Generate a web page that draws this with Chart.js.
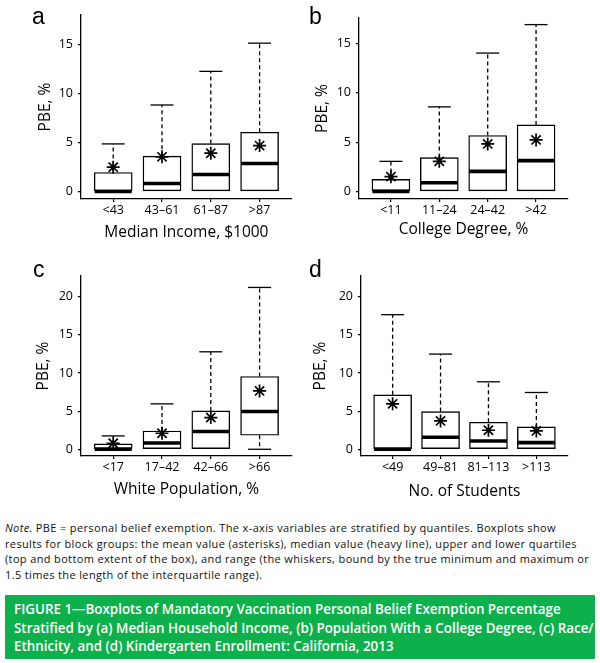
<!DOCTYPE html>
<html>
<head>
<meta charset="utf-8">
<script src="https://cdn.jsdelivr.net/npm/chart.js@4.4.1/dist/chart.umd.min.js"></script>
<style>
  body { margin: 0; background: #fff; width: 600px; height: 663px; position: relative; overflow: hidden; font-family: 'Open Sans', sans-serif; }
  canvas { position: absolute; }
  .lt { position: absolute; font-family: 'Liberation Sans', Arial, sans-serif; font-size: 23px; line-height: 23px; color: #000; }
  #note { position: absolute; left: 5px; top: 520px; font-size: 11px; letter-spacing: 0.36px; line-height: 15.6px; white-space: nowrap; color: #111; }
  #cap { position: absolute; left: 5px; top: 595px; width: 590px; height: 64px; background: #0db14b; color: #fff; }
  #cap div { position: absolute; left: 9px; top: 5px; font-size: 13.4px; line-height: 18.6px; font-weight: 600; white-space: nowrap; }
</style>
</head>
<body>
<canvas id="pa" width="300" height="250" style="left:0;top:0"></canvas>
<canvas id="pb" width="300" height="250" style="left:300px;top:0"></canvas>
<canvas id="pc" width="300" height="262" style="left:0;top:250px"></canvas>
<canvas id="pd" width="300" height="262" style="left:300px;top:250px"></canvas>
<div class="lt" style="left:32px;top:5px">a</div>
<div class="lt" style="left:309px;top:5px">b</div>
<div class="lt" style="left:33px;top:258px">c</div>
<div class="lt" style="left:309px;top:258px">d</div>
<div id="note"><i>Note.</i> PBE = personal belief exemption. The x-axis variables are stratified by quantiles. Boxplots show<br>results for block groups: the mean value (asterisks), median value (heavy line), upper and lower quartiles<br>(top and bottom extent of the box), and range (the whiskers, bound by the true minimum and maximum or<br>1.5 times the length of the interquartile range).</div>
<div id="cap"><div>FIGURE 1—Boxplots of Mandatory Vaccination Personal Belief Exemption Percentage<br>Stratified by (a) Median Household Income, (b) Population With a College Degree, (c) Race/<br>Ethnicity, and (d) Kindergarten Enrollment: California, 2013</div></div>

<script>
// a: median income
var incomeCats = ['<43', '43–61', '61–87', '>87'];
var incomeMin  = [0, 0, 0, 0];
var incomeQ1   = [0, 0, 0, 0];
var incomeMed  = [0, 0.81, 1.73, 2.85];
var incomeQ3   = [1.93, 3.6, 4.88, 6.04];
var incomeMax  = [4.85, 8.82, 12.25, 15.13];
var incomeMean = [2.48, 3.53, 3.9, 4.68];

// b: college degree
var collegeCats = ['<11', '11–24', '24–42', '>42'];
var collegeMin  = [0, 0, 0, 0];
var collegeQ1   = [0, 0, 0, 0];
var collegeMed  = [0, 0.88, 2.03, 3.12];
var collegeQ3   = [1.22, 3.43, 5.67, 6.75];
var collegeMax  = [3.05, 8.58, 14.04, 16.93];
var collegeMean = [1.5, 3.05, 4.82, 5.23];

// c: white population
var whiteCats = ['<17', '17–42', '42–66', '>66'];
var whiteMin  = [0, 0, 0, 0];
var whiteQ1   = [0, 0, 0, 1.84];
var whiteMed  = [0, 0.83, 2.32, 4.94];
var whiteQ3   = [0.7, 2.4, 5.03, 9.54];
var whiteMax  = [1.75, 5.95, 12.77, 21.2];
var whiteMean = [0.79, 2.1, 4.16, 7.65];

// d: number of students
var studentCats = ['<49', '49–81', '81–113', '>113'];
var studentMin  = [0, 0, 0, 0];
var studentQ1   = [0, 0, 0, 0];
var studentMed  = [0, 1.57, 1.09, 0.87];
var studentQ3   = [7.13, 4.94, 3.54, 2.93];
var studentMax  = [17.63, 12.47, 8.84, 7.44];
var studentMean = [5.95, 3.72, 2.49, 2.41];

var ticksSmall = [0, 5, 10, 15];
var ticksLarge = [0, 5, 10, 15, 20];

var BOX_W = 38;
var CAP_W = 23;

// whiskers behind the boxes, medians on top of them
var boxParts = {
  id: 'boxParts',
  beforeDatasetsDraw: function(chart) {
    var st = chart.options.plugins.boxParts;
    var xs = chart.scales.x, ys = chart.scales.y, ctx = chart.ctx;
    ctx.save();
    ctx.strokeStyle = '#000';
    ctx.lineWidth = 1.3;
    for (var i = 0; i < st.q3.length; i++) {
      var x = xs.getPixelForValue(i + 1);
      var ends = [[st.q3[i], st.max[i]], [st.q1[i], st.min[i]]];
      ends.forEach(function(e) {
        if (Math.abs(e[0] - e[1]) < 0.01) return;
        ctx.setLineDash([4, 3]);
        ctx.beginPath();
        ctx.moveTo(x, ys.getPixelForValue(e[0]));
        ctx.lineTo(x, ys.getPixelForValue(e[1]));
        ctx.stroke();
        ctx.setLineDash([]);
        ctx.beginPath();
        ctx.moveTo(x - CAP_W / 2, ys.getPixelForValue(e[1]));
        ctx.lineTo(x + CAP_W / 2, ys.getPixelForValue(e[1]));
        ctx.stroke();
      });
    }
    ctx.restore();
  },
  afterDatasetDraw: function(chart, args) {
    if (args.index !== 0) return;
    var st = chart.options.plugins.boxParts;
    var xs = chart.scales.x, ys = chart.scales.y, ctx = chart.ctx;
    ctx.save();
    ctx.strokeStyle = '#000';
    ctx.lineWidth = 3.6;
    for (var i = 0; i < st.med.length; i++) {
      var x = xs.getPixelForValue(i + 1);
      var y = ys.getPixelForValue(st.med[i]);
      ctx.beginPath();
      ctx.moveTo(x - BOX_W / 2 + 0.5, y);
      ctx.lineTo(x + BOX_W / 2 - 0.5, y);
      ctx.stroke();
    }
    ctx.restore();
  }
};

function makePanel(id, p) {
  var xs = p.cats.map(function(c, i) { return i + 1; });
  var axisFont = { family: "'Open Sans', sans-serif", size: 12.5 };
  var titleFont = { family: "'Open Sans', sans-serif", size: 15.5 };
  new Chart(document.getElementById(id), {
    type: 'bar',
    data: {
      datasets: [
        {
          type: 'bar',
          data: xs.map(function(x, i) { return { x: x, y: [p.q1[i], p.q3[i]] }; }),
          backgroundColor: '#fff',
          borderColor: '#000',
          borderWidth: 1.4,
          borderSkipped: false,
          barThickness: BOX_W,
          order: 2
        },
        {
          type: 'scatter',
          data: xs.map(function(x, i) { return { x: x, y: p.mean[i] }; }),
          pointStyle: 'star',
          pointRadius: 6.5,
          borderColor: '#000',
          borderWidth: 1.7,
          order: 1
        }
      ]
    },
    options: {
      responsive: false,
      animation: false,
      events: [],
      layout: { padding: p.pad },
      plugins: {
        legend: { display: false },
        tooltip: { enabled: false },
        boxParts: { min: p.min, q1: p.q1, med: p.med, q3: p.q3, max: p.max }
      },
      scales: {
        x: {
          type: 'linear',
          offset: false,
          min: 0.34,
          max: 4.66,
          afterBuildTicks: function(s) { s.ticks = xs.map(function(v) { return { value: v }; }); },
          afterFit: function(s) { s.height = p.xH; },
          ticks: {
            autoSkip: false, maxRotation: 0, color: '#000', font: axisFont, padding: 1,
            callback: function(v) { return p.cats[v - 1]; }
          },
          grid: { drawOnChartArea: false, offset: false, tickLength: 3, color: '#000', lineWidth: 1.2 },
          border: { display: true, color: '#000', width: 1.3 },
          title: { display: true, text: p.xTitle, color: '#000', font: titleFont, padding: { top: 0, bottom: p.xTitlePad } }
        },
        y: {
          min: p.yMin,
          max: p.yMax,
          afterBuildTicks: function(s) { s.ticks = p.yTicks.map(function(v) { return { value: v }; }); },
          afterFit: function(s) { s.width = p.yW; },
          ticks: { color: '#000', font: axisFont, padding: 5 },
          grid: { drawOnChartArea: false, tickLength: 3, color: '#000', lineWidth: 1.2 },
          border: { display: true, color: '#000', width: 1.3 },
          title: { display: true, text: 'PBE, %', color: '#000', font: titleFont, padding: { top: p.yTitlePad, bottom: 0 } }
        }
      }
    },
    plugins: [boxParts]
  });
}

makePanel('pa', {
  cats: incomeCats, min: incomeMin, q1: incomeQ1, med: incomeMed, q3: incomeQ3, max: incomeMax, mean: incomeMean,
  yMin: -0.77, yMax: 18, yTicks: ticksSmall, xTitle: 'Median Income, $1000',
  pad: { left: 0, top: 15, right: 7, bottom: 0 }, yW: 81, xH: 51, xTitlePad: 8, yTitlePad: 36
});
makePanel('pb', {
  cats: collegeCats, min: collegeMin, q1: collegeQ1, med: collegeMed, q3: collegeQ3, max: collegeMax, mean: collegeMean,
  yMin: -0.77, yMax: 17.6, yTicks: ticksSmall, xTitle: 'College Degree, %',
  pad: { left: 0, top: 18, right: 32, bottom: 0 }, yW: 59, xH: 51, xTitlePad: 11, yTitlePad: 13
});
makePanel('pc', {
  cats: whiteCats, min: whiteMin, q1: whiteQ1, med: whiteMed, q3: whiteQ3, max: whiteMax, mean: whiteMean,
  yMin: -0.88, yMax: 22.7, yTicks: ticksLarge, xTitle: 'White Population, %',
  pad: { left: 0, top: 26, right: 7, bottom: 0 }, yW: 81, xH: 56, xTitlePad: 13, yTitlePad: 34
});
makePanel('pd', {
  cats: studentCats, min: studentMin, q1: studentQ1, med: studentMed, q3: studentQ3, max: studentMax, mean: studentMean,
  yMin: -0.88, yMax: 22.7, yTicks: ticksLarge, xTitle: 'No. of Students',
  pad: { left: 0, top: 26, right: 32, bottom: 0 }, yW: 61, xH: 56, xTitlePad: 11, yTitlePad: 11
});
</script>
</body>
</html>
